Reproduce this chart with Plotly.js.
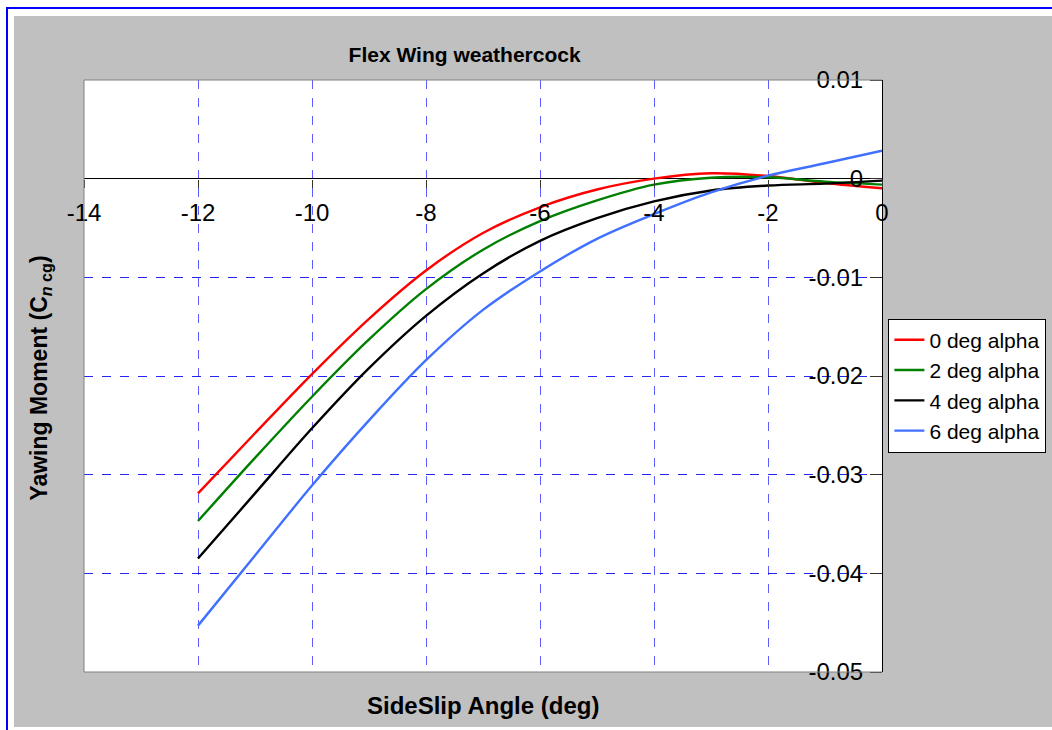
<!DOCTYPE html>
<html>
<head>
<meta charset="utf-8">
<script src="https://cdn.plot.ly/plotly-3.0.1.min.js"></script>
<style>
  html, body { margin: 0; padding: 0; background: #ffffff; overflow: hidden; }
  #frame { position: absolute; left: 6px; top: 7px; width: 1100px; height: 800px;
           border-left: 2px solid #0000ff; border-top: 2px solid #0000ff; }
  #chart { position: absolute; left: 14px; top: 16px; width: 1038px; height: 711px; }
</style>
</head>
<body>
<div id="frame"></div>
<div id="chart"></div>
<script>
// Sideslip angle (deg)
const betaDeg = [-12, -11, -10, -9, -8, -7, -6, -5, -4, -3, -2, -1, 0];

// Yawing moment coefficient about the cg, one series per angle of attack
const cnAlpha0 = [-0.0319, -0.0258, -0.0198, -0.0142, -0.0093, -0.0055, -0.0029, -0.0011, 0.0000, 0.00055, 0.00027, -0.00044, -0.00097];
const cnAlpha2 = [-0.0347, -0.0283, -0.0221, -0.0163, -0.0112, -0.0072, -0.0043, -0.0022, -0.0006, 0.0001, 0.00014, -0.0003, -0.0006];
const cnAlpha4 = [-0.0385, -0.0319, -0.0253, -0.0192, -0.0139, -0.0096, -0.0063, -0.0040, -0.0023, -0.0012, -0.0007, -0.0005, -0.0002];
const cnAlpha6 = [-0.0453, -0.0382, -0.0311, -0.0245, -0.0184, -0.0133, -0.0094, -0.0061, -0.0036, -0.0014, 0.0003, 0.00156, 0.00284];

const seriesNames = ['0 deg alpha', '2 deg alpha', '4 deg alpha', '6 deg alpha'];
const seriesColors = ['#ff0000', '#008000', '#000000', '#4070ff'];

// Axis ticks
const xTickVals = [-14, -12, -10, -8, -6, -4, -2, 0];
const xTickText = ['-14', '-12', '-10', '-8', '-6', '-4', '-2', '0'];
const yTickVals = [-0.05, -0.04, -0.03, -0.02, -0.01, 0, 0.01];
const yTickText = ['-0.05', '-0.04', '-0.03', '-0.02', '-0.01', '0', '0.01'];

const FONT = 'Liberation Sans, Arial, sans-serif';
const allSeries = [cnAlpha0, cnAlpha2, cnAlpha4, cnAlpha6];

const traces = allSeries.map((ys, i) => ({
  x: betaDeg,
  y: ys,
  type: 'scatter',
  mode: 'lines',
  name: seriesNames[i],
  legendgroup: 'g' + i,
  line: { color: seriesColors[i], width: 2.4, shape: 'spline', smoothing: 1 }
}));

const layout = {
  width: 1038,
  height: 711,
  margin: { l: 70, r: 170, t: 64, b: 55, autoexpand: false },
  paper_bgcolor: '#c0c0c0',
  plot_bgcolor: '#ffffff',
  font: { family: FONT, color: '#000000' },
  title: {
    text: 'Flex Wing weathercock',
    font: { family: FONT, size: 21, weight: 'bold', color: '#000000' },
    xref: 'paper', x: 0.477, xanchor: 'center',
    yref: 'container', y: 0.945, yanchor: 'middle'
  },
  xaxis: {
    range: [-14, 0],
    anchor: 'free',
    position: 0.05 / 0.06,
    side: 'bottom',
    tickmode: 'array',
    tickvals: xTickVals,
    ticktext: xTickText,
    ticks: 'outside',
    ticklen: 8,
    tickcolor: '#333333',
    ticklabelstandoff: 5,
    tickfont: { family: FONT, size: 24, color: '#000000' },
    showline: false,
    showgrid: true,
    gridcolor: 'rgba(40,40,255,0.75)',
    griddash: 'dash',
    gridwidth: 1,
    zeroline: false
  },
  yaxis: {
    range: [-0.05, 0.01],
    anchor: 'free',
    position: 1,
    side: 'left',
    tickmode: 'array',
    tickvals: yTickVals,
    ticktext: yTickText,
    ticks: 'outside',
    ticklen: 12,
    tickcolor: '#333333',
    ticklabelstandoff: 2,
    tickfont: { family: FONT, size: 24, color: '#000000' },
    showline: true,
    linecolor: '#000000',
    linewidth: 1,
    showgrid: true,
    gridcolor: 'rgba(0,0,240,0.85)',
    griddash: 'dash',
    gridwidth: 1,
    zeroline: true,
    zerolinecolor: '#000000',
    zerolinewidth: 1
  },
  showlegend: true,
  legend: {
    x: 1.008, xanchor: 'left',
    y: 0.597, yanchor: 'top',
    bgcolor: '#ffffff',
    bordercolor: '#000000',
    borderwidth: 1,
    tracegroupgap: 0,
    font: { family: FONT, size: 21, color: '#000000' }
  },
  shapes: [
    { type: 'line', xref: 'paper', yref: 'paper', x0: 0, x1: 0, y0: 0, y1: 1, line: { color: '#808080', width: 1 }, layer: 'above' },
    { type: 'line', xref: 'paper', yref: 'paper', x0: 0, x1: 1, y0: 1, y1: 1, line: { color: '#808080', width: 1 }, layer: 'above' },
    { type: 'line', xref: 'paper', yref: 'paper', x0: 0, x1: 1, y0: 0, y1: 0, line: { color: '#808080', width: 1 }, layer: 'above' }
  ],
  annotations: [
    {
      text: 'SideSlip Angle (deg)',
      xref: 'paper', yref: 'paper', x: 0.5, y: -0.056,
      xanchor: 'center', yanchor: 'middle', showarrow: false,
      font: { family: FONT, size: 24, weight: 'bold', color: '#000000' }
    },
    {
      text: 'Yawing Moment (C<sub><i>n</i> cg</sub>)',
      xref: 'paper', yref: 'paper', x: -0.054, y: 0.497,
      xanchor: 'center', yanchor: 'middle', showarrow: false, textangle: -90,
      font: { family: FONT, size: 23, weight: 'bold', color: '#000000' }
    }
  ]
};

Plotly.newPlot('chart', traces, layout, { displayModeBar: false, staticPlot: true });
</script>
</body>
</html>
